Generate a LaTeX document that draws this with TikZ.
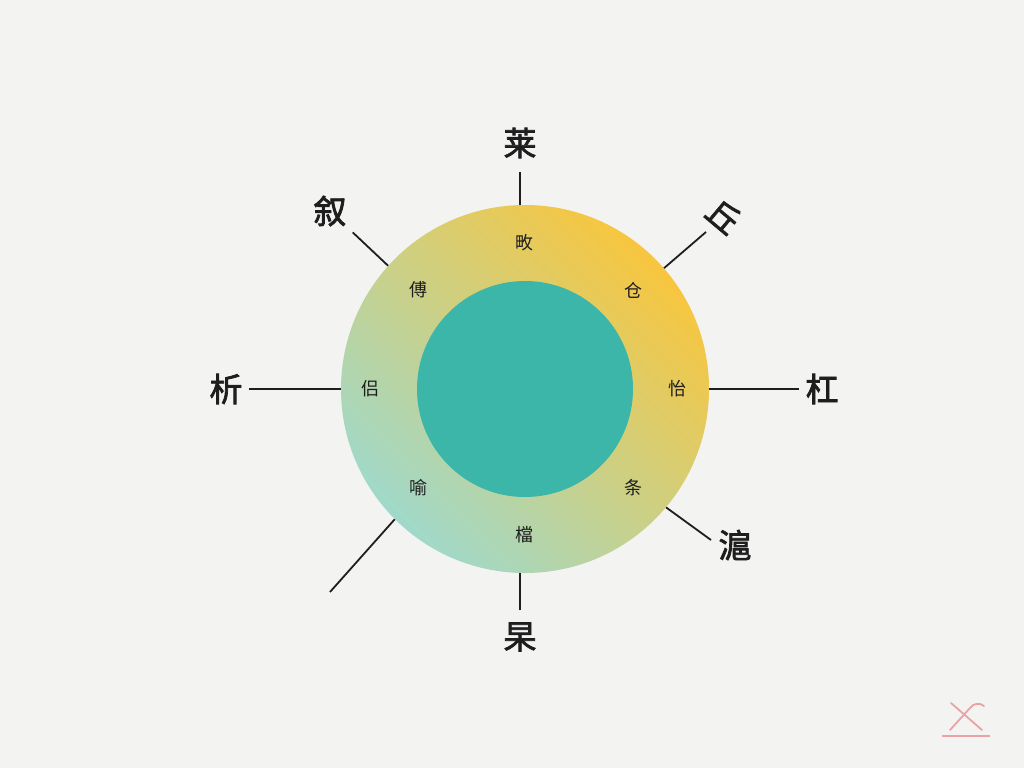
\documentclass[tikz,border=0pt]{standalone}
\usepackage{fontspec}
\newfontfamily\cjk{Noto Sans CJK SC}
\newfontfamily\cjkbold{Noto Sans CJK SC}[FakeBold=2.2]
\usetikzlibrary{positioning,calc}
\definecolor{paper}{HTML}{F3F3F2}
\definecolor{ringyellow}{HTML}{F8C63E}
\definecolor{ringgreen}{HTML}{A0D9CA}
\definecolor{coreteal}{HTML}{3BB6A8}
\definecolor{ink}{HTML}{1E1E1E}
\definecolor{markred}{HTML}{E9A3A6}
\tikzset{outerlbl/.style={font=\cjkbold\fontsize{33}{33}\selectfont, text=ink, inner sep=6pt}}
\tikzset{innerlbl/.style={font=\cjk\fontsize{18}{18}\selectfont, text=ink, inner sep=1pt}}
\tikzset{spoke/.style={draw=ink, line width=1.8pt}}

\begin{document}
\begin{tikzpicture}[x=1pt, y=-1pt]
			\fill[paper] (0,0) rectangle (1024,768);
			\useasboundingbox (0,0) rectangle (1024,768);
			% ring and core
			\node[circle, minimum size=368pt, inner sep=0, top color=ringyellow,
				bottom color=ringgreen, shading angle=-45] (ring) at (525,389) {};
			\node[circle, minimum size=216pt, inner sep=0, fill=coreteal] (core) at (525,389) {};
			% inner labels
			\node[innerlbl] (iN) at (524,243) {畋};
			\node[innerlbl] (iNW) at (418,290) {傅};
			\node[innerlbl] (iNE) at (633,290) {仓};
			\node[innerlbl] (iW) at (370,389) {侣};
			\node[innerlbl] (iE) at (677,389) {怡};
			\node[innerlbl] (iSW) at (418,488) {喻};
			\node[innerlbl] (iSE) at (633,488) {条};
			\node[innerlbl] (iS) at (524,535) {檔};
			% outer labels
			\node[outerlbl] (oN) at (520,143) {莱};
			\node[outerlbl] (oNW) at (330,211) {叙};
			\node[outerlbl, rotate=-40] (oNE) at (724,216) {丘};
			\node[outerlbl] (oW) at (226,389) {析};
			\node[outerlbl] (oE) at (822,389) {杠};
			\node[outerlbl] (oSE) at (735,545) {滬};
			\node[outerlbl] (oS) at (520,637) {杲};
			\coordinate (oSW) at (330,592);
			% spokes
			\draw[spoke, shorten <=8pt] (oN) -- (oN |- ring.north);
			\draw[spoke] (ring.138) -- (oNW);
			\draw[spoke] (ring.41) -- ($(oNE)+(-18,16)$);
			\draw[spoke] (ring.west) -- (oW);
			\draw[spoke] (ring.east) -- (oE);
			\draw[spoke] (ring.-40) -- ($(oSE)+(-24,-5)$);
			\draw[spoke, shorten <=6pt] (oS) -- (oS |- ring.south);
			\draw[spoke] (ring.225) -- (oSW);
			% corner mark
			\draw[markred, line width=1.8pt, line cap=round] (951,703) -- (982,730);
			\draw[markred, line width=1.8pt, line cap=round] (950,730) -- (970,708) to[bend left=50] (984,706);
			\draw[markred, line width=1.8pt] (942,736) -- (990,736);
		\end{tikzpicture}
\end{document}
